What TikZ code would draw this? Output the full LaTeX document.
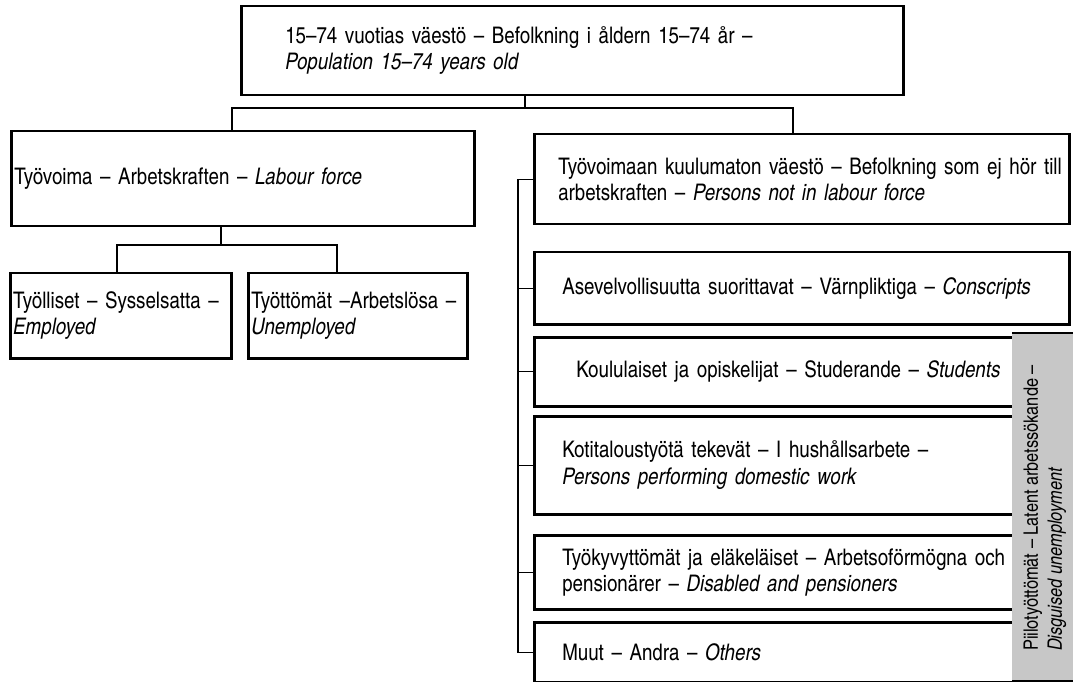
\documentclass[tikz,border=0pt]{standalone}
\usepackage{fontspec}
\setmainfont{texgyreheroscn}[Extension=.otf, UprightFont=*-regular, ItalicFont=*-italic, BoldFont=*-bold, BoldItalicFont=*-bolditalic]
\usepackage{tikz}
\usetikzlibrary{calc}
\newlength{\px}
\setlength{\px}{0.03cm}

\begin{document}
\begin{tikzpicture}[x=0.03cm, y=-0.03cm]
	\useasboundingbox (0,0) rectangle (1073,682);
	\tikzstyle{box} = [draw, line width=2.5\px, anchor=north west, align=left, inner ysep=0pt, font=\fontsize{19.5}{22.5}\selectfont]
	\tikzstyle{link} = [line width=1.2\px]
	\node[box, minimum width=662\px, minimum height=89\px, inner xsep=44\px, text width=574\px] (pop) at (240,5) {15–74 vuotias väestö – Befolkning i åldern 15–74 år –\\\textit{Population 15–74 years old}};
	\node[box, minimum width=463\px, minimum height=95\px, inner xsep=3\px, text width=457\px] (lf) at (10,130) {Työvoima – Arbetskraften – \textit{Labour force}};
	\node[box, minimum width=221\px, minimum height=85\px, inner xsep=3\px, text width=215\px] (emp) at (9,272) {\mbox{Työlliset – Sysselsatta –}\\\textit{Employed}};
	\node[box, minimum width=219\px, minimum height=85\px, inner xsep=3\px, text width=213\px] (unemp) at (247,272) {\mbox{Työttömät –Arbetslösa –}\\\textit{Unemployed}};
	\node[box, minimum width=535\px, minimum height=90\px, inner xsep=24\px, text width=487\px] (notlf) at (533,133) {\mbox{Työvoimaan kuulumaton väestö – Befolkning som ej hör till}\\arbetskraften – \textit{Persons not in labour force}};
	\node[box, minimum width=535\px, minimum height=72\px, inner xsep=28\px, text width=479\px] (cons) at (533,251) {\mbox{Asevelvollisuutta suorittavat – Värnpliktiga – \textit{Conscripts}}};
	\node[box, minimum width=479\px, minimum height=69\px, inner xsep=42\px, text width=395\px] (stud) at (533,336) {\mbox{Koululaiset ja opiskelijat – Studerande – \textit{Students}}};
	\node[box, minimum width=479\px, minimum height=98\px, inner xsep=28\px, text width=423\px] (dom) at (533,415) {\mbox{Kotitaloustyötä tekevät – I hushållsarbete –}\\\textit{Persons performing domestic work}};
	\node[box, minimum width=479\px, minimum height=74\px, inner xsep=28\px, text width=423\px] (dis) at (533,534) {\mbox{Työkyvyttömät ja eläkeläiset – Arbetsoförmögna och}\\pensionärer – \textit{Disabled and pensioners}};
	\node[box, minimum width=479\px, minimum height=60\px, inner xsep=28\px, text width=423\px] (oth) at (533,621) {Muut – Andra – \textit{Others}};
	\node[fill=black!22, anchor=north west, inner sep=0pt, minimum width=70\px, minimum height=348\px] (band) at (1012,333) {};
	\draw[line width=2.5\px] (band.north west) -- (band.north east);
	\draw[line width=2.5\px] (band.south west) -- (band.south east);
	\node[rotate=90, align=left, inner sep=0pt, font=\fontsize{17}{20.5}\selectfont] (latent) at (1045,508) {Piilotyöttömät – Latent arbetssökande –\\\textit{Disguised unemployment}};
	\coordinate (s0) at (525,108);
	\coordinate (s1) at (232,108);
	\coordinate (s2) at (793,108);
	\draw[link] (s0 |- pop.south) -- (s0);
	\draw[link] (lf.north -| s1) -- (s1) -- (s2) -- (s2 |- notlf.north);
	\coordinate (t0) at (221,245);
	\coordinate (t1) at (117,245);
	\coordinate (t2) at (337,245);
	\draw[link] (t0 |- lf.south) -- (t0);
	\draw[link] (emp.north -| t1) -- (t1) -- (t2) -- (t2 |- unemp.north);
	\draw[link] (notlf.west) -- ++(-15,0) |- (oth.west);
	\foreach \n in {cons,stud,dom,dis}
		\draw[link] (\n.west) -- ++(-15,0);
\end{tikzpicture}
\end{document}
